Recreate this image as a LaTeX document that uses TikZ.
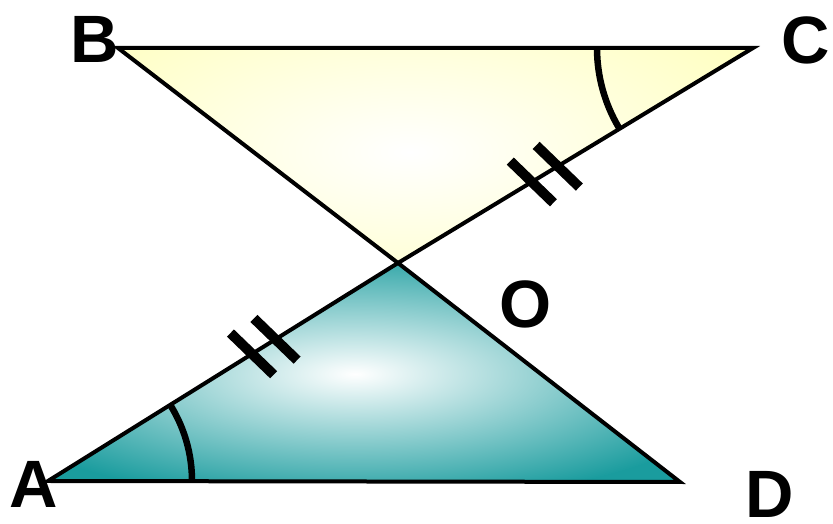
\documentclass[tikz,border=0pt]{standalone}
\usepackage{fontspec}
\setmainfont{Liberation Sans}
\usepackage{xcolor}
\usetikzlibrary{positioning, calc}

\definecolor{paleyellow}{RGB}{255,255,185}
\definecolor{tealfill}{RGB}{26,156,158}

\begin{document}
\begin{tikzpicture}[
  x=1pt, y=1pt,
  edge/.style={draw=black, line width=4pt, line join=miter},
  anglearc/.style={draw=black, line width=6.5pt},
  tick/.style={draw=black, line width=10pt},
  every node/.style={font=\fontsize{67}{67}\selectfont\bfseries, inner sep=0pt}
]
\useasboundingbox (0,0) rectangle (833,524);

\coordinate (A) at (48,43);
\coordinate (B) at (118,476);
\coordinate (C) at (753,476);
\coordinate (D) at (680,42);
\coordinate (O) at (398,261);

% yellow triangle
\begin{scope}
\clip (B) -- (C) -- (O) -- cycle;
\fill[paleyellow] (B) -- (C) -- (O) -- cycle;
\shade[inner color=white, outer color=paleyellow] (410,372) ellipse [x radius=460, y radius=200];
\end{scope}

% teal triangle
\begin{scope}
\clip (A) -- (O) -- (D) -- cycle;
\fill[tealfill] (A) -- (O) -- (D) -- cycle;
\shade[inner color=white, outer color=tealfill] (355,150) ellipse [x radius=400, y radius=130];
\end{scope}

\draw[edge] (B) -- (C) -- (O) -- cycle;
\draw[edge] (A) -- (O) -- (D) -- cycle;

% equal angles
\draw[anglearc] ($(A)+(144,0)$) arc[start angle=0, end angle=32, radius=144];
\draw[anglearc] ($(C)+(-156,0)$) arc[start angle=180, end angle=211, radius=156];

% equal sides AO and OC
\coordinate (ao1) at ($(A)!0.583!(O)$);
\coordinate (ao2) at ($(A)!0.650!(O)$);
\coordinate (oc1) at ($(O)!0.377!(C)$);
\coordinate (oc2) at ($(O)!0.450!(C)$);
\foreach \p in {ao1, ao2, oc1, oc2}
  \draw[tick] ($(\p)+(136:30)$) -- ($(\p)+(-44:30)$);

\node (labA) at (34,40) {A};
\node (labB) at (95,485) {B};
\node (labC) at (806,484) {C};
\node (labO) at (526,220) {O};
\node (labD) at (770,30) {D};
\end{tikzpicture}
\end{document}
